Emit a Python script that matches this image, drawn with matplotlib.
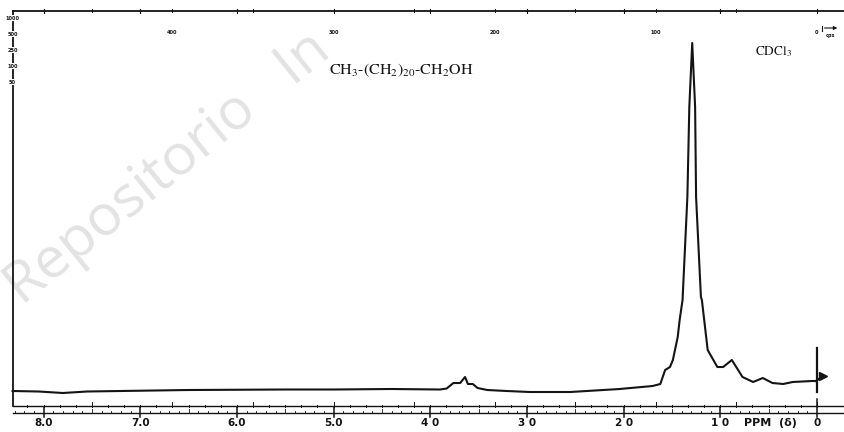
import matplotlib
matplotlib.use("Agg")
import matplotlib.pyplot as plt
import numpy as np

# 1H NMR trace (60 MHz, CDCl3)
ppm = [8.32, 8.05, 7.80, 7.55, 7.20, 6.50, 5.50, 5.00, 4.40, 3.90, 3.83, 3.76,
       3.69, 3.64, 3.61, 3.56, 3.51, 3.41, 3.21, 2.97, 2.55, 2.04, 1.70, 1.62,
       1.57, 1.52, 1.49, 1.44, 1.42, 1.39, 1.34, 1.32, 1.29, 1.26, 1.25, 1.20,
       1.19, 1.13, 1.03, 0.97, 0.88, 0.77, 0.66, 0.56, 0.46, 0.35, 0.25, 0.05,
       0.01]
intensity = [9, 8.5, 7, 8.5, 9, 10, 10.5, 10.5, 11, 10.5, 11.5, 17,
             17, 23, 16, 16, 12, 10, 9, 8, 8, 11, 14, 16,
             30, 33, 40, 63, 80, 100, 203, 293, 357, 293, 203, 103,
             100, 50, 33, 33, 40, 23, 18, 22, 17, 16, 18, 19,
             19]
tms_spike = (8, 52)          # reference peak at 0 ppm
tms_arrow = (-0.065, 24)

ppm_labels = ["8.0", "7.0", "6.0", "5.0", "4 0", "3 0", "2 0", "1 0", "0"]
ppm_label_pos = [8, 7, 6, 5, 4, 3, 2, 1, 0]
hz_labels = ["400", "300", "200", "100", "0"]
hz_label_pos = [400, 300, 200, 100, 0]
sweep_labels = ["1000", "500", "250", "100", "50"]
sweep_label_y = [382, 366, 350, 334, 318]
MHZ = 60.0

fig = plt.figure(figsize=(8.44, 4.32), dpi=100)
ax = fig.add_axes([0, 0, 1, 1])
ax.set_xlim(8.45, -0.28)
ax.set_ylim(-32, 400)
ax.axis("off")

ink = "#141414"

# watermark
ax.text(8.22, 94, "Repositorio   In", rotation=39, fontsize=41,
        color="#e3e3e3", family="Open Sans", ha="left", va="baseline",
        rotation_mode="anchor", zorder=0)

# frame (left + top)
x_left = 8.32
ax.plot([x_left, x_left], [-6, 389.5], color=ink, lw=1.3)
ax.plot([x_left, -0.28], [389.5, 389.5], color=ink, lw=1.3)

# top ruler ticks: ppm + 50 cps
for p in np.arange(0, 9, 1.0):
    if p < x_left:
        ax.plot([p, p], [387.5, 391.5], color=ink, lw=0.8)
for hz in np.arange(0, 500, 50):
    p = hz / MHZ
    ax.plot([p, p], [388, 391], color=ink, lw=0.7)
for hz, lab in zip(hz_label_pos, hz_labels):
    ax.text(hz / MHZ, 367, lab, fontsize=3.6, weight="bold", color=ink,
            ha="center", va="center")
ax.text(-0.14, 364, "cps", fontsize=3.6, weight="bold", color=ink,
        ha="center", va="center")
ax.annotate("", xy=(-0.24, 372), xytext=(-0.05, 372),
            arrowprops=dict(arrowstyle="-|>", lw=0.8, color=ink,
                            mutation_scale=5))
ax.plot([-0.05, -0.05], [369.5, 374.5], color=ink, lw=0.8)

# left sweep labels
for y, lab in zip(sweep_label_y, sweep_labels):
    ax.plot([x_left - 0.02, x_left + 0.04], [y, y], color=ink, lw=0.7)
    ax.text(x_left, y, lab, fontsize=3.6, weight="bold", color=ink,
            ha="center", va="center",
            bbox=dict(boxstyle="square,pad=0.05", fc="white", ec="none"))

# bottom rulers: cps (upper) and ppm (lower)
ax.plot([x_left, -0.28], [-6, -6], color=ink, lw=1.0)
ax.plot([x_left, -0.28], [-12.5, -12.5], color=ink, lw=1.0)
for hz in np.arange(0, 510, 10):
    p = hz / MHZ
    if p > x_left:
        continue
    top = -1.5 if hz % 50 == 0 else -4.5
    ax.plot([p, p], [-7, top], color=ink, lw=0.7)
for p in np.arange(0, 8.31, 0.1):
    k = int(round(p * 10))
    if k % 10 == 0:
        continue
    lo, hi = (-13, -8.5) if k % 5 == 0 else (-13, -11)
    ax.plot([p, p], [lo, hi], color=ink, lw=0.6)
for p in range(0, 9):
    top = 1 if p == 0 else -7
    ax.plot([p, p], [-17, top], color=ink, lw=1.1)
for p, lab in zip(ppm_label_pos, ppm_labels):
    ax.text(p, -23, lab, fontsize=7.5, weight="bold", color=ink,
            ha="center", va="center")
ax.text(0.48, -23, "PPM  (\u03b4)", fontsize=8, weight="bold", color=ink,
        ha="center", va="center")

# spectrum
ax.plot(ppm, intensity, color=ink, lw=1.5, solid_joinstyle="round")
ax.plot([0, 0], tms_spike, color=ink, lw=1.6)
ax.plot([tms_arrow[0]], [tms_arrow[1]], marker=">", ms=6, color=ink)
ax.plot([0.01, tms_arrow[0]], [19, tms_arrow[1]], color=ink, lw=1.5)

# annotations
plt.rcParams["mathtext.fontset"] = "stix"
ax.text(4.3, 330, r"CH$_3$-(CH$_2$)$_{20}$-CH$_2$OH", fontsize=11.5,
        family="STIXGeneral", color=ink, ha="center", va="center")
ax.text(0.445, 348, r"CDCl$_3$", fontsize=9.5, family="STIXGeneral",
        color=ink, ha="center", va="center")

fig.savefig("out.png", dpi=100, facecolor="white")
